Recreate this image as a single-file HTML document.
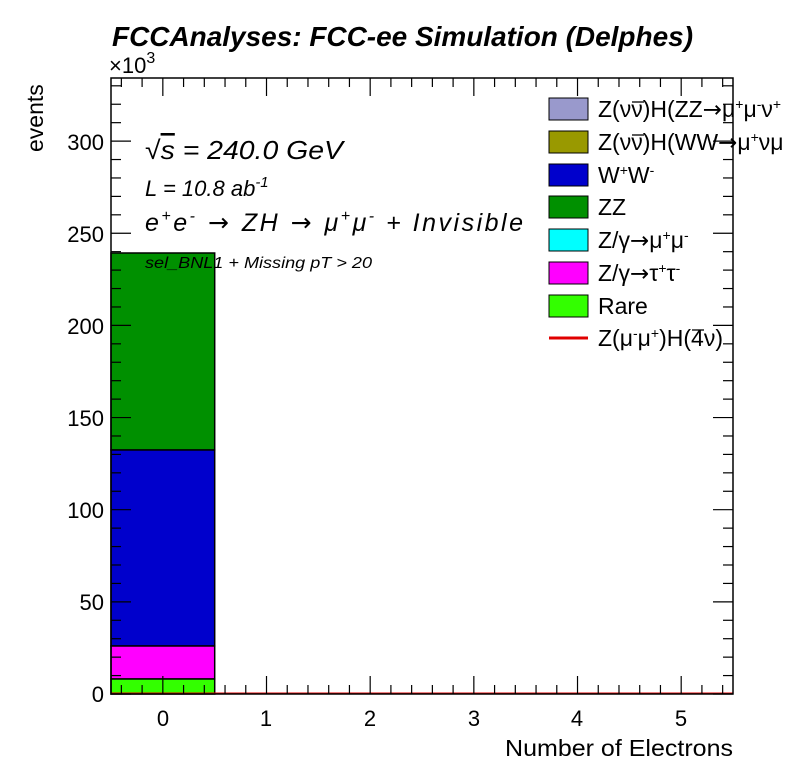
<!DOCTYPE html>
<html><head><meta charset="utf-8"><style>
html,body{margin:0;padding:0;background:#fff;}
svg{display:block;font-family:"Liberation Sans",sans-serif;}
.ar{font-family:"DejaVu Sans",sans-serif;}
</style></head><body>
<svg id="s" width="796" height="772" viewBox="0 0 796 772" xmlns="http://www.w3.org/2000/svg">
<rect width="796" height="772" fill="#fff"/>
<text x="112" y="46" font-size="28" font-weight="bold" font-style="italic" textLength="581" lengthAdjust="spacingAndGlyphs">FCCAnalyses: FCC-ee Simulation (Delphes)</text>
<text x="109" y="73" font-size="22">×10<tspan dy="-10" font-size="16">3</tspan></text>
<text transform="translate(43,152) rotate(-90)" font-size="23">events</text>
<rect x="111" y="253" width="103.7" height="197" fill="#009000" stroke="#000" stroke-width="1.5"/>
<rect x="111" y="450" width="103.7" height="196" fill="#0000cc" stroke="#000" stroke-width="1.5"/>
<rect x="111" y="646" width="103.7" height="33" fill="#ff00ff" stroke="#000" stroke-width="1.5"/>
<rect x="111" y="679" width="103.7" height="15" fill="#33ff00" stroke="#000" stroke-width="1.5"/>
<line x1="111" y1="693.5" x2="733" y2="693.5" stroke="#e00000" stroke-width="2"/>
<g id="ticks" stroke="#000" stroke-width="1.2"></g>
<rect x="111" y="78" width="622" height="616" fill="none" stroke="#000" stroke-width="1.5"/>
<g font-size="22" text-anchor="end">
<text x="104" y="702">0</text><text x="104" y="610">50</text><text x="104" y="518">100</text>
<text x="104" y="426">150</text><text x="104" y="334">200</text><text x="104" y="242">250</text><text x="104" y="150">300</text>
</g>
<g font-size="22" text-anchor="middle">
<text x="163" y="726">0</text><text x="266" y="726">1</text><text x="370" y="726">2</text>
<text x="474" y="726">3</text><text x="577" y="726">4</text><text x="681" y="726">5</text>
</g>
<text x="733" y="756" font-size="23" text-anchor="end" textLength="228" lengthAdjust="spacingAndGlyphs">Number of Electrons</text>
<g font-style="italic">
<text x="145" y="159" font-size="26" textLength="198" lengthAdjust="spacingAndGlyphs">√<tspan text-decoration="overline">s</tspan> = 240.0 GeV</text>
<text x="145" y="196" font-size="22">L = 10.8 ab<tspan dy="-9" font-size="15">-1</tspan></text>
<text x="145" y="231" font-size="25" textLength="378" lengthAdjust="spacing">e<tspan dy="-10" font-size="16">+</tspan><tspan dy="10">e</tspan><tspan dy="-10" font-size="16">-</tspan><tspan dy="10" class="ar" font-style="normal">  →  </tspan>ZH<tspan class="ar" font-style="normal">  →  </tspan>μ<tspan dy="-10" font-size="16">+</tspan><tspan dy="10">μ</tspan><tspan dy="-10" font-size="16">-</tspan><tspan dy="10"> + Invisible</tspan></text>
<text x="145" y="268" font-size="16" textLength="227" lengthAdjust="spacingAndGlyphs">sel_BNL1 + Missing pT &gt; 20</text>
</g>
<g stroke="#000" stroke-width="1">
<rect x="549" y="98" width="39" height="22" fill="#9999cc"/>
<rect x="549" y="131" width="39" height="22" fill="#999900"/>
<rect x="549" y="164" width="39" height="22" fill="#0000cc"/>
<rect x="549" y="196" width="39" height="22" fill="#009000"/>
<rect x="549" y="229" width="39" height="22" fill="#00ffff"/>
<rect x="549" y="262" width="39" height="22" fill="#ff00ff"/>
<rect x="549" y="295" width="39" height="22" fill="#33ff00"/>
</g>
<line x1="549" y1="338" x2="588" y2="338" stroke="#e00000" stroke-width="3"/>
<g font-size="23">
<text x="598" y="117">Z(νν)H(ZZ<tspan class="ar">→</tspan>μ<tspan dy="-8" font-size="14">+</tspan><tspan dy="8">μ</tspan><tspan dy="-8" font-size="14">-</tspan><tspan dy="8">ν</tspan><tspan dy="-8" font-size="14">+</tspan></text>
<text x="598" y="150">Z(νν)H(WW<tspan class="ar">→</tspan>μ<tspan dy="-8" font-size="14">+</tspan><tspan dy="8">νμ</tspan></text>
<text x="598" y="183">W<tspan dy="-8" font-size="14">+</tspan><tspan dy="8">W</tspan><tspan dy="-8" font-size="14">-</tspan></text>
<text x="598" y="215">ZZ</text>
<text x="598" y="248">Z/γ<tspan class="ar">→</tspan>μ<tspan dy="-8" font-size="14">+</tspan><tspan dy="8">μ</tspan><tspan dy="-8" font-size="14">-</tspan></text>
<text x="598" y="281">Z/γ<tspan class="ar">→</tspan>τ<tspan dy="-8" font-size="14">+</tspan><tspan dy="8">τ</tspan><tspan dy="-8" font-size="14">-</tspan></text>
<text x="598" y="314">Rare</text>
<text x="598" y="346">Z(μ<tspan dy="-8" font-size="14">-</tspan><tspan dy="8">μ</tspan><tspan dy="-8" font-size="14">+</tspan><tspan dy="8">)H(4ν)</tspan></text>
</g>
<g stroke="#000" stroke-width="1.3">
<line x1="632" y1="102" x2="644" y2="102"/>
<line x1="632" y1="135" x2="644" y2="135"/>
<line x1="692" y1="330" x2="704" y2="330"/>
</g>
</svg>
<script>
var g=document.getElementById('ticks'),ns="http://www.w3.org/2000/svg",L=111,R=733,T=78,B=694;
function ln(a,b,c,d){var e=document.createElementNS(ns,'line');e.setAttribute('x1',a);e.setAttribute('y1',b);e.setAttribute('x2',c);e.setAttribute('y2',d);g.appendChild(e);}
for(var k=0;k<=33;k++){var y=B-k*10*1.843;if(y<T)break;var len=(k%5==0)?20:10;ln(L,y,L+len,y);ln(R,y,R-len,y);}
for(var i=-2;i<=27;i++){var v=i*0.2;var x=L+(v+0.5)*103.67;if(x<L-0.1||x>R+0.1)continue;var maj=(i%5==0);var len=maj?18:9;ln(x,B,x,B-len);ln(x,T,x,T+len);}
</script>
</body></html>
